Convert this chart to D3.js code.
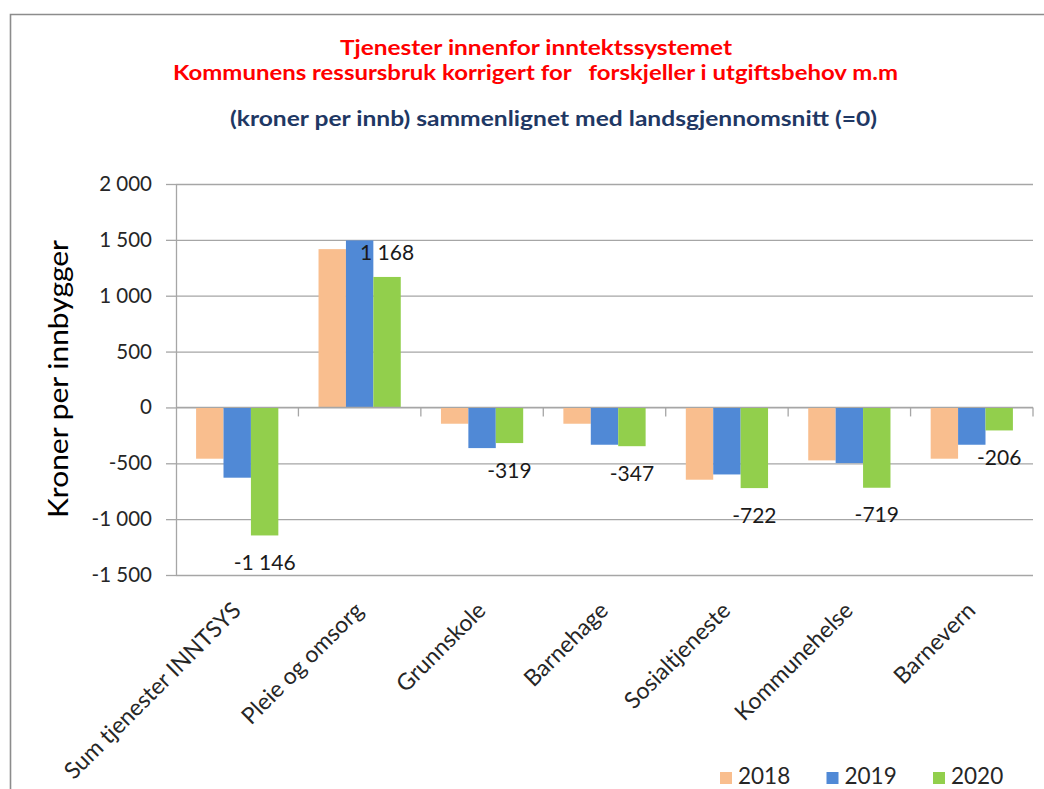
<!DOCTYPE html>
<html>
<head>
<meta charset="utf-8">
<script src="https://cdn.jsdelivr.net/npm/d3@7"></script>
<style>
  body { margin: 0; background: #fff; }
  svg { display: block; font-family: Lato, "Open Sans", sans-serif; }
</style>
</head>
<body>
<div id="chart"></div>
<script>
// data
const categories = ["Sum tjenester INNTSYS", "Pleie og omsorg", "Grunnskole", "Barnehage", "Sosialtjeneste", "Kommunehelse", "Barnevern"];
const years = ["2018", "2019", "2020"];
const values2018 = [-459, 1417, -146, -146, -647, -474, -459];
const values2019 = [-629, 1495, -364, -334, -600, -498, -334];
const values2020 = [-1146, 1168, -319, -347, -722, -719, -206];
const yTicks = [-1500, -1000, -500, 0, 500, 1000, 1500, 2000];
const colors = ["#F9BE8E", "#5089D6", "#92CF4C"];

const titleLines = [
  { text: "Tjenester innenfor inntektssystemet", color: "#FF0000" },
  { text: "Kommunens ressursbruk korrigert for   forskjeller i utgiftsbehov m.m", color: "#FF0000" },
  { text: "(kroner per innb) sammenlignet med landsgjennomsnitt (=0)", color: "#1F3864" }
];

const series = [values2018, values2019, values2020];
const rows = categories.map((c, i) => ({ cat: c, vals: years.map((y, j) => ({ year: y, value: series[j][i], idx: j })) }));

const width = 1044;
const height = 789;
const marginLeft = 176;
const plotRight = 1033;
const plotTop = 184;
const plotBottom = 575;

const fmt = d3.formatLocale({ decimal: ",", thousands: " ", grouping: [3], currency: ["", ""], minus: "-" }).format(",d");

const svg = d3.select("#chart").append("svg")
  .attr("width", width)
  .attr("height", height);

// outer frame (only top and left visible)
svg.append("path")
  .attr("d", `M10.5,${height} V14.5 H${width}`)
  .attr("fill", "none")
  .attr("stroke", "#8c8c8c")
  .attr("stroke-width", 1.6);

// titles
const titlePos = [[536, 55, 392, 21], [535.5, 80, 725, 21], [553.5, 126, 647, 20]];
titleLines.forEach((t, i) => {
  const p = titlePos[i];
  svg.append("text")
    .attr("x", p[0])
    .attr("y", p[1])
    .attr("text-anchor", "middle")
    .attr("fill", t.color)
    .style("font-weight", "bold")
    .style("font-size", p[3] + "px")
    .style("white-space", "pre")
    .attr("textLength", p[2])
    .attr("lengthAdjust", "spacingAndGlyphs")
    .text(t.text);
});

const x0 = d3.scaleBand()
  .domain(categories)
  .range([marginLeft, plotRight])
  .padding(0);

const x1 = d3.scaleBand()
  .domain(years)
  .range([0, x0.bandwidth()])
  .paddingInner(0)
  .paddingOuter(0.733);

const y = d3.scaleLinear()
  .domain([-1500, 2000])
  .range([plotBottom, plotTop]);

// gridlines
svg.append("g")
  .attr("transform", `translate(${marginLeft},0)`)
  .call(d3.axisLeft(y).tickValues(yTicks).tickSize(-(plotRight - marginLeft)).tickFormat(""))
  .call(g => g.select(".domain").remove())
  .call(g => g.selectAll(".tick line").attr("stroke", "#a6a6a6").attr("stroke-width", 1.3));

// bars
svg.append("g")
  .selectAll("g")
  .data(rows)
  .join("g")
  .attr("transform", d => `translate(${x0(d.cat)},0)`)
  .selectAll("rect")
  .data(d => d.vals)
  .join("rect")
  .attr("x", d => x1(d.year))
  .attr("width", x1.bandwidth())
  .attr("y", d => y(Math.max(0, d.value)))
  .attr("height", d => Math.abs(y(d.value) - y(0)))
  .attr("fill", d => colors[d.idx]);

// y axis
svg.append("g")
  .attr("transform", `translate(${marginLeft},0)`)
  .call(d3.axisLeft(y).tickValues(yTicks).tickSize(10).tickSizeOuter(0).tickPadding(14).tickFormat(fmt))
  .call(g => g.select(".domain").attr("stroke", "#a6a6a6").attr("stroke-width", 1.3))
  .call(g => g.selectAll(".tick line").attr("stroke", "#a6a6a6").attr("stroke-width", 1.3))
  .call(g => g.selectAll(".tick text")
    .attr("fill", "#262626")
    .style("font-family", "Lato, sans-serif")
    .style("font-size", "20.5px"));

// category axis on the zero line
svg.append("line")
  .attr("x1", marginLeft)
  .attr("x2", plotRight)
  .attr("y1", y(0))
  .attr("y2", y(0))
  .attr("stroke", "#a6a6a6")
  .attr("stroke-width", 1.3);

svg.append("g")
  .selectAll("line")
  .data(categories)
  .join("line")
  .attr("x1", d => x0(d) + x0.bandwidth())
  .attr("x2", d => x0(d) + x0.bandwidth())
  .attr("y1", y(0))
  .attr("y2", y(0) + 9)
  .attr("stroke", "#a6a6a6")
  .attr("stroke-width", 1.3);

// data labels for 2020
svg.append("g")
  .selectAll("text")
  .data(rows)
  .join("text")
  .attr("x", d => x0(d.cat) + x1("2020") + x1.bandwidth() / 2)
  .attr("y", d => d.vals[2].value >= 0 ? y(d.vals[2].value) - 25 : y(d.vals[2].value) + 27)
  .attr("dy", "0.36em")
  .attr("text-anchor", "middle")
  .attr("fill", "#1a1a1a")
  .style("font-size", "21px")
  .text(d => fmt(d.vals[2].value));

// category labels
svg.append("g")
  .selectAll("text")
  .data(categories)
  .join("text")
  .attr("transform", d => `translate(${x0(d) + x0.bandwidth() / 2 + 5},612) rotate(-45)`)
  .attr("text-anchor", "end")
  .attr("fill", "#262626")
  .style("font-size", "23px")
  .text(d => d);

// y axis title
svg.append("text")
  .attr("transform", "translate(68,379) rotate(-90)")
  .attr("text-anchor", "middle")
  .attr("fill", "#000")
  .style("font-size", "26px")
  .attr("textLength", 278)
  .attr("lengthAdjust", "spacingAndGlyphs")
  .text("Kroner per innbygger");

// legend
const legend = svg.append("g")
  .selectAll("g")
  .data(years)
  .join("g")
  .attr("transform", (d, i) => `translate(${720 + i * 106.5},772)`);

legend.append("rect")
  .attr("width", 12)
  .attr("height", 12)
  .attr("fill", (d, i) => colors[i]);

legend.append("text")
  .attr("x", 18)
  .attr("y", 12)
  .attr("fill", "#262626")
  .style("font-size", "22.5px")
  .text(d => d);
</script>
</body>
</html>
